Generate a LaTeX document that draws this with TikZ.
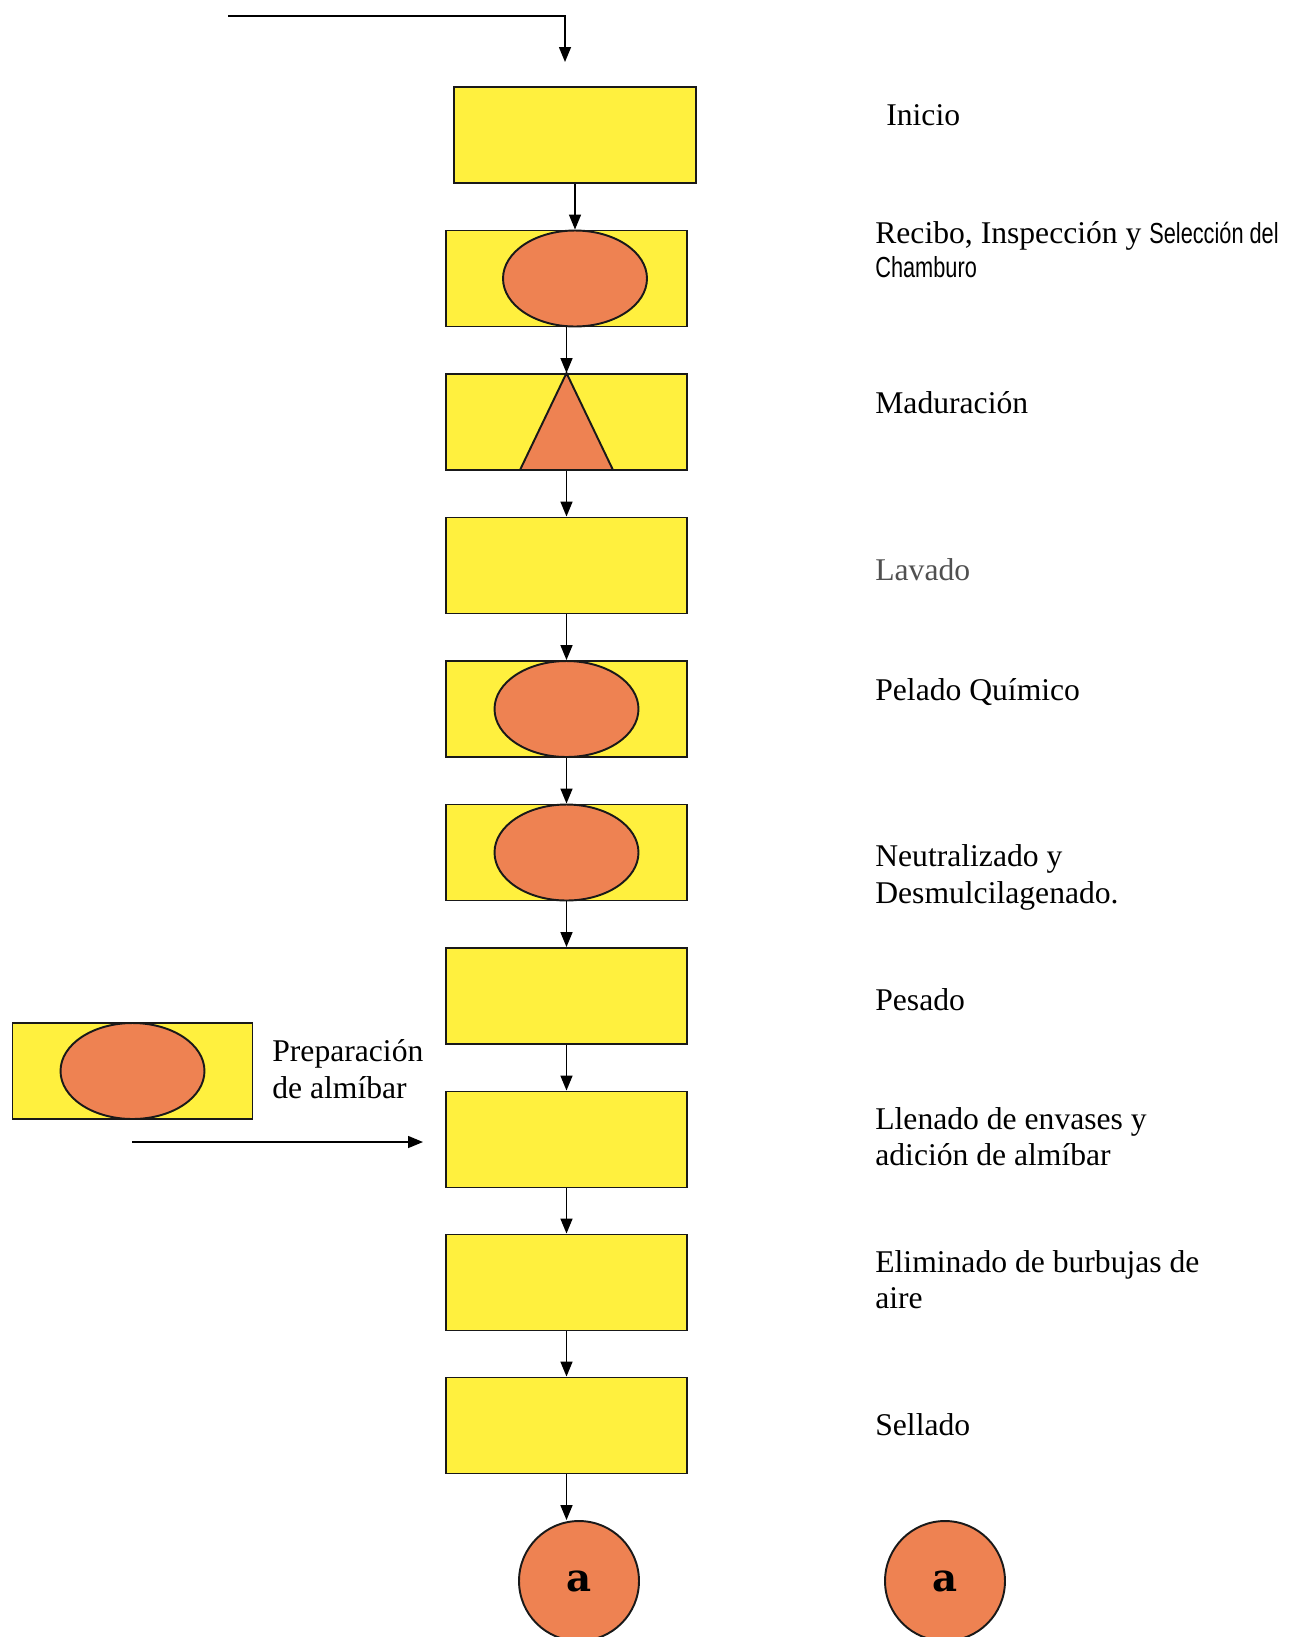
\documentclass[tikz,border=0pt]{standalone}
\usepackage{fontspec}
\setmainfont{Liberation Serif}
\newfontfamily\narrowsf[FakeStretch=0.75]{Liberation Sans}
\newfontfamily\circfont{DejaVu Serif}
\usetikzlibrary{arrows.meta,shapes.geometric}

\definecolor{boxyellow}{RGB}{255,240,62}
\definecolor{fruitorange}{RGB}{238,130,82}
\definecolor{lavgray}{RGB}{80,80,80}

\tikzset{
    procbox/.style={draw=black!90, line width=1.1pt, fill=boxyellow, minimum width=4.82cm, minimum height=1.92cm, inner sep=0pt},
    opoval/.style={draw=black!90, line width=1.1pt, fill=fruitorange, ellipse, minimum width=2.88cm, minimum height=1.92cm, inner sep=0pt},
    conector/.style={draw=black!90, line width=1.1pt, fill=fruitorange, circle, minimum size=2.4cm, inner sep=0pt, font=\circfont\bfseries\fontsize{22}{24}\selectfont},
    flecha/.style={line width=0.85pt, -{Triangle[length=0.3cm,width=0.24cm]}},
    etiqueta/.style={anchor=base west, align=left, inner sep=0pt, font=\fontsize{18}{20.5}\selectfont}
}

\begin{document}
\begin{tikzpicture}[x=0.02cm, y=-0.02cm]
                \useasboundingbox (0,0) rectangle (1290,1637);
                % flujo principal
                \node[procbox, minimum width=4.84cm] (inicio) at (575,135) {};
                \node[procbox] (recibo) at (566.5,278.5) {};
                \node[opoval] (recibo-op) at (575,278.5) {};
                \node[procbox] (madur) at (566.5,422) {};
                \filldraw[draw=black!90, line width=1.1pt, fill=fruitorange] (madur.north) -- (520,470) -- (613,470) -- cycle;
                \node[procbox] (lavado) at (566.5,565.5) {};
                \node[procbox] (pelado) at (566.5,709) {};
                \node[opoval] (pelado-op) at (566.5,709) {};
                \node[procbox] (neutro) at (566.5,852.5) {};
                \node[opoval] (neutro-op) at (566.5,852.5) {};
                \node[procbox] (pesado) at (566.5,996) {};
                \node[procbox] (llenado) at (566.5,1139.5) {};
                \node[procbox] (burbujas) at (566.5,1282.5) {};
                \node[procbox] (sellado) at (566.5,1425.5) {};
                \node[conector] (conA) at (579,1581) {a};
                \node[conector] (conB) at (945,1581) {a};

                % preparacion de almibar
                \node[procbox, minimum width=4.8cm] (almibar) at (132.5,1071) {};
                \node[opoval] (almibar-op) at (132.5,1071) {};
                \node[etiqueta] (almibar-txt) at (272,1098) {Preparación\\de almíbar};
                \coordinate (alm-ini) at (132,1142);
                \coordinate (alm-fin) at (423,1142);
                \draw[flecha] (alm-ini) -- (alm-fin);

                % entrada superior
                \coordinate (ent-ini) at (228,16);
                \coordinate (ent-codo) at (565,16);
                \coordinate (ent-fin) at (565,62);
                \draw[flecha] (ent-ini) -- (ent-codo) -- (ent-fin);

                \draw[flecha] (inicio.south) -- (inicio.south |- recibo.north);
                \draw[flecha] (recibo.south) -- (madur.north);
                \draw[flecha] (madur.south) -- (lavado.north);
                \draw[flecha] (lavado.south) -- (pelado.north);
                \draw[flecha] (pelado.south) -- (neutro.north);
                \draw[flecha] (neutro.south) -- (pesado.north);
                \draw[flecha] (pesado.south) -- (llenado.north);
                \draw[flecha] (llenado.south) -- (burbujas.north);
                \draw[flecha] (burbujas.south) -- (sellado.north);
                \draw[flecha] (sellado.south) -- (sellado.south |- conA.north);

                % etiquetas (base = ultima linea)
                \node[etiqueta] (t-inicio) at (886,125) {Inicio};
                \node[etiqueta, font=\fontsize{18}{19.3}\selectfont] (t-recibo) at (875,277) {Recibo, Inspección y {\narrowsf\fontsize{16.5}{19.3}\selectfont Selección del}\\{\narrowsf\fontsize{16.5}{19.3}\selectfont Chamburo}};
                \node[etiqueta] (t-madur) at (875,413) {Maduración};
                \node[etiqueta, text=lavgray] (t-lavado) at (875,580) {Lavado};
                \node[etiqueta] (t-pelado) at (875,700) {Pelado Químico};
                \node[etiqueta] (t-neutro) at (875,903) {Neutralizado y\\Desmulcilagenado.};
                \node[etiqueta] (t-pesado) at (875,1010) {Pesado};
                \node[etiqueta] (t-llenado) at (875,1165) {Llenado de envases y\\adición de almíbar};
                \node[etiqueta] (t-burbujas) at (875,1308) {Eliminado de burbujas de\\aire};
                \node[etiqueta] (t-sellado) at (875,1435) {Sellado};
            \end{tikzpicture}
\end{document}
